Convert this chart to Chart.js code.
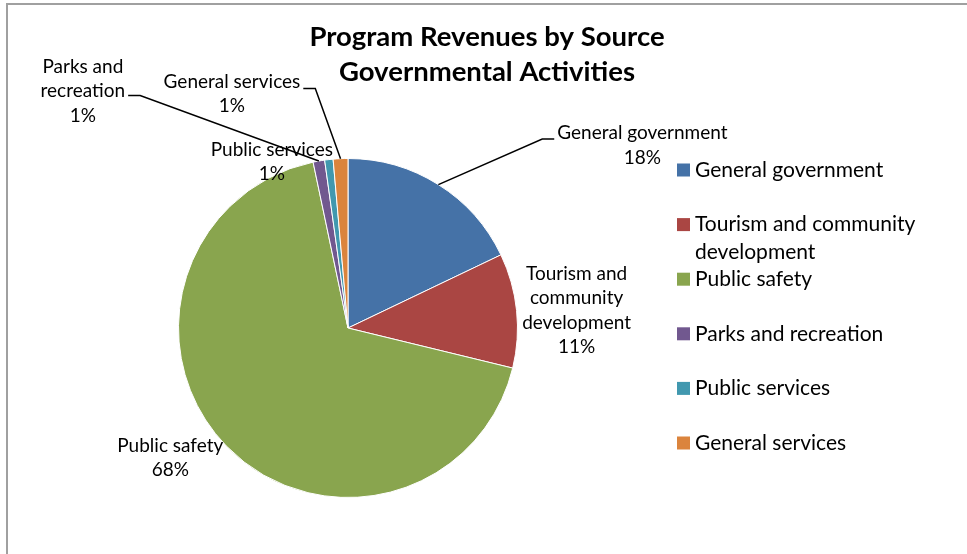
<!DOCTYPE html>
<html>
<head>
<meta charset="utf-8">
<script src="https://cdn.jsdelivr.net/npm/chart.js@4.4.1/dist/chart.umd.min.js"></script>
<style>
  html, body { margin: 0; padding: 0; background: #fff; overflow: hidden; }
  canvas { display: block; }
</style>
</head>
<body>
<canvas id="c" width="967" height="554"></canvas>
<script>
// Program revenues by source, governmental activities (share of total, %)
const categories = [
  'General government',
  'Tourism and community development',
  'Public safety',
  'Parks and recreation',
  'Public services',
  'General services'
];
const shares = [17.9, 10.9, 67.9, 1.1, 0.8, 1.4];
const sliceColors = ['#4572A7', '#AA4643', '#89A54E', '#71588F', '#4198AF', '#DB843D'];
const titleLines = ['Program Revenues by Source', 'Governmental Activities'];

const FONT = 'Lato, "Open Sans", sans-serif';

function wrapText(ctx, text, maxWidth) {
  const words = text.split(' ');
  const lines = [];
  let cur = '';
  for (const w of words) {
    const test = cur ? cur + ' ' + w : w;
    if (cur && ctx.measureText(test).width > maxWidth) {
      lines.push(cur);
      cur = w;
    } else {
      cur = test;
    }
  }
  if (cur) lines.push(cur);
  return lines;
}

// White background and the grey frame lines on the top and left
const framePlugin = {
  id: 'frame',
  beforeDraw(chart) {
    const ctx = chart.ctx;
    ctx.save();
    ctx.fillStyle = '#fff';
    ctx.fillRect(0, 0, chart.width, chart.height);
    ctx.strokeStyle = '#a0a0a0';
    ctx.lineWidth = 2;
    ctx.beginPath();
    ctx.moveTo(7, chart.height);
    ctx.lineTo(7, 4);
    ctx.lineTo(chart.width, 4);
    ctx.stroke();
    ctx.restore();
  }
};

// Two-line bold title
const titlePlugin = {
  id: 'twoLineTitle',
  afterDraw(chart, args, opts) {
    const ctx = chart.ctx;
    ctx.save();
    ctx.fillStyle = '#000';
    ctx.font = 'bold ' + opts.size + 'px ' + FONT;
    ctx.textAlign = 'center';
    ctx.textBaseline = 'middle';
    opts.lines.forEach((t, i) => ctx.fillText(t, opts.x, opts.y + i * opts.lineHeight));
    ctx.restore();
  }
};

// Category name + percentage beside each slice, with leader lines where set
const sliceLabelPlugin = {
  id: 'sliceLabels',
  afterDatasetsDraw(chart, args, opts) {
    const ctx = chart.ctx;
    const meta = chart.getDatasetMeta(0);
    const data = chart.data.datasets[0].data;
    const total = data.reduce((a, b) => a + b, 0);
    ctx.save();
    ctx.font = opts.size + 'px ' + FONT;
    ctx.fillStyle = '#000';
    ctx.textAlign = 'center';
    ctx.textBaseline = 'middle';
    meta.data.forEach((arc, i) => {
      const p = opts.place[i];
      const mid = (arc.startAngle + arc.endAngle) / 2;
      const ex = arc.x + Math.cos(mid) * arc.outerRadius;
      const ey = arc.y + Math.sin(mid) * arc.outerRadius;
      const cx = ex + p.dx;
      const cy = ey + p.dy;
      const lines = wrapText(ctx, chart.data.labels[i], p.wrap);
      lines.push(Math.round(data[i] / total * 100) + '%');
      const top = cy - (lines.length - 1) * opts.lineHeight / 2;
      lines.forEach((t, k) => ctx.fillText(t, cx, top + k * opts.lineHeight));
      if (p.leader) {
        const w = Math.max(...lines.map(t => ctx.measureText(t).width));
        const side = cx > ex ? -1 : 1;
        const edgeX = cx + side * w / 2;
        const ly = cy + p.ly;
        ctx.save();
        ctx.strokeStyle = '#000';
        ctx.lineWidth = 1.5;
        ctx.beginPath();
        ctx.moveTo(ex, ey);
        ctx.lineTo(edgeX + side * 15, ly);
        ctx.lineTo(edgeX + side * 3, ly);
        ctx.stroke();
        ctx.restore();
      }
    });
    ctx.restore();
  }
};

// Legend on the right: square swatch + wrapped category name
const sideLegendPlugin = {
  id: 'sideLegend',
  afterDraw(chart, args, opts) {
    const ctx = chart.ctx;
    const colors = chart.data.datasets[0].backgroundColor;
    ctx.save();
    ctx.font = opts.size + 'px ' + FONT;
    ctx.textAlign = 'left';
    ctx.textBaseline = 'middle';
    chart.data.labels.forEach((label, i) => {
      const y = opts.y + i * opts.step;
      ctx.fillStyle = colors[i];
      ctx.fillRect(opts.x, y - opts.box / 2, opts.box, opts.box);
      ctx.fillStyle = '#000';
      wrapText(ctx, label, opts.wrap).forEach((t, k) =>
        ctx.fillText(t, opts.x + opts.box + 5, y + k * opts.lineHeight));
    });
    ctx.restore();
  }
};

new Chart(document.getElementById('c'), {
  type: 'pie',
  data: {
    labels: categories,
    datasets: [{
      data: shares,
      backgroundColor: sliceColors,
      borderColor: '#ffffff',
      borderWidth: 1,
      hoverOffset: 0
    }]
  },
  plugins: [framePlugin, titlePlugin, sliceLabelPlugin, sideLegendPlugin],
  options: {
    responsive: false,
    devicePixelRatio: 1,
    animation: false,
    events: [],
    layout: { padding: { left: 178, right: 449, top: 157, bottom: 55 } },
    plugins: {
      legend: { display: false },
      title: { display: false },
      tooltip: { enabled: false },
      twoLineTitle: { lines: titleLines, x: 487, y: 37, lineHeight: 35, size: 27.5 },
      sliceLabels: {
        size: 19,
        lineHeight: 24.5,
        place: [
          { dx: 204, dy: -39, wrap: 300, leader: true, ly: -6.5 },
          { dx: 60, dy: 0, wrap: 135 },
          { dx: -56, dy: 12, wrap: 300 },
          { dx: -236, dy: -70, wrap: 110, leader: true, ly: 4.5 },
          { dx: -57, dy: 2.4, wrap: 300 },
          { dx: -108.6, dy: -64.7, wrap: 300, leader: true, ly: -5.5 }
        ]
      },
      sideLegend: { x: 677, y: 170, step: 54.6, box: 13, size: 21, lineHeight: 28, wrap: 250 }
    }
  }
});
</script>
</body>
</html>
